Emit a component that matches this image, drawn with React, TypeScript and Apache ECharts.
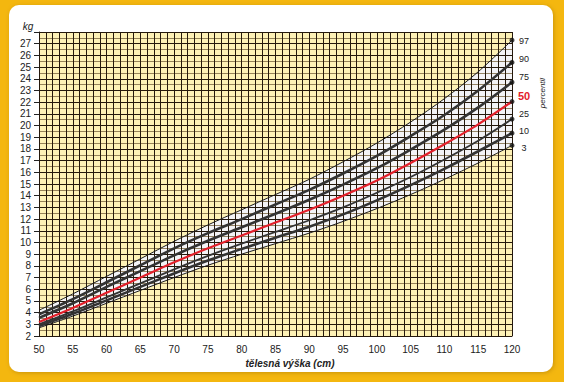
import React, { useEffect, useRef } from "react";
import * as echarts from "echarts";

const heights = [50, 55, 60, 65, 70, 75, 80, 85, 90, 95, 100, 105, 110, 115, 120];
const p97 = [4.2, 5.6, 7.1, 8.6, 10.1, 11.5, 12.8, 14.1, 15.4, 16.9, 18.5, 20.3, 22.3, 24.6, 27.3];
const p90 = [3.85, 5.15, 6.6, 8.05, 9.5, 10.8, 12.0, 13.25, 14.5, 15.9, 17.4, 19.1, 20.9, 23.0, 25.4];
const p75 = [3.55, 4.8, 6.2, 7.55, 8.9, 10.15, 11.3, 12.45, 13.65, 14.95, 16.35, 17.95, 19.65, 21.55, 23.7];
const p50 = [3.2, 4.4, 5.7, 7.0, 8.3, 9.5, 10.6, 11.7, 12.8, 14.0, 15.3, 16.8, 18.4, 20.1, 22.05];
const p25 = [3.0, 4.1, 5.3, 6.5, 7.7, 8.85, 9.9, 10.9, 11.9, 13.0, 14.25, 15.6, 17.1, 18.7, 20.55];
const p10 = [2.85, 3.9, 5.05, 6.2, 7.35, 8.45, 9.45, 10.4, 11.35, 12.4, 13.6, 14.9, 16.3, 17.8, 19.35];
const p3 = [2.7, 3.7, 4.8, 5.9, 7.0, 8.05, 9.0, 9.9, 10.8, 11.8, 12.9, 14.1, 15.4, 16.8, 18.3];

const percentileNames = ["97", "90", "75", "50", "25", "10", "3"];
const yLabelTop = 28;

const FONT = "'Liberation Sans', Arial, sans-serif";
const GOLD = "#f4b70f";
const PAPER = "#fdf1b6";
const BAND = "#f3f3f6";
const GRIDLINE = "#24180c";

export default function App() {
  const ref = useRef<HTMLDivElement>(null);
  useEffect(() => {
    const chart = echarts.init(ref.current!, null, { renderer: "svg" });
    const pts = (arr: number[]) => heights.map((h, i) => [h, arr[i]]);
    const last = heights.length - 1;
    const curves = [p97, p90, p75, p50, p25, p10, p3];
    const widths = [1, 2.6, 2.6, 2.2, 1.8, 2.6, 1];
    const colors = ["#1a1a1a", "#333333", "#333333", "#e3202b", "#333333", "#333333", "#1a1a1a"];
    const labelY = [41, 59, 77, 96, 114, 131, 148];

    const lineSeries = curves.map((c, i) => ({
      type: "line",
      name: percentileNames[i],
      data: pts(c),
      smooth: 0.3,
      symbol: "none",
      z: 5,
      lineStyle: { color: colors[i], width: widths[i] },
    }));

    const option: any = {
      animation: false,
      backgroundColor: GOLD,
      grid: {
        left: 39,
        right: 52,
        top: 32,
        bottom: 46,
        show: true,
        backgroundColor: PAPER,
        borderWidth: 0,
        z: 1,
      },
      xAxis: {
        type: "value",
        min: 50,
        max: 120,
        interval: 1,
        z: 3,
        axisLine: { show: true, lineStyle: { color: GRIDLINE, width: 1 } },
        axisTick: { show: false },
        axisLabel: {
          fontFamily: FONT,
          fontSize: 10,
          color: "#222",
          margin: 8,
          showMinLabel: true,
          showMaxLabel: true,
          formatter: (v: number) => (v % 5 === 0 ? String(v) : ""),
        },
        splitLine: { show: true, lineStyle: { color: GRIDLINE, width: 1 } },
      },
      yAxis: {
        type: "value",
        min: 2,
        max: 28,
        interval: 1,
        z: 3,
        axisLine: { show: true, lineStyle: { color: GRIDLINE, width: 1 } },
        axisTick: { show: true, length: 5, lineStyle: { color: "#222" } },
        axisLabel: {
          fontFamily: FONT,
          fontSize: 10,
          color: "#222",
          margin: 8,
          formatter: (v: number) => (v === yLabelTop ? "" : String(v)),
        },
        splitLine: { show: true, lineStyle: { color: GRIDLINE, width: 1 } },
        minorTick: { show: false, splitNumber: 2 },
        minorSplitLine: { show: true, lineStyle: { color: "#7a6640", width: 0.8 } },
      },
      graphic: [
        {
          type: "rect",
          z: -10,
          silent: true,
          shape: { x: 9, y: 5, width: 544, height: 367, r: 10 },
          style: { fill: "#ffffff", shadowBlur: 4, shadowColor: "rgba(120,80,0,0.35)", shadowOffsetX: 1, shadowOffsetY: 1 },
        },
        {
          type: "text",
          x: 28,
          y: 26,
          z: 10,
          style: { text: "kg", fontFamily: FONT, fontSize: 10, fontStyle: "italic", fill: "#222", align: "center", verticalAlign: "middle" },
        },
        {
          type: "text",
          x: 290,
          y: 363,
          z: 10,
          style: {
            text: "tělesná výška (cm)",
            fontFamily: FONT,
            fontSize: 10,
            fontStyle: "italic",
            fontWeight: "bold",
            fill: "#222",
            align: "center",
            verticalAlign: "middle",
          },
        },
        {
          type: "text",
          x: 542,
          y: 93,
          z: 10,
          rotation: Math.PI / 2,
          style: {
            text: "percentil",
            fontFamily: FONT,
            fontSize: 8,
            fontStyle: "italic",
            fill: "#222",
            align: "center",
            verticalAlign: "middle",
          },
        },
        ...percentileNames.map((n, i) => ({
          type: "text",
          x: 524,
          y: labelY[i],
          z: 10,
          style: {
            text: n,
            fontFamily: FONT,
            fontSize: n === "50" ? 11 : 9,
            fontWeight: n === "50" ? "bold" : "normal",
            fill: n === "50" ? "#e3202b" : "#222",
            align: "center",
            verticalAlign: "middle",
          },
        })),
      ],
      series: [
        {
          type: "line",
          data: pts(p97),
          smooth: 0.3,
          symbol: "none",
          z: 2,
          lineStyle: { width: 0 },
          areaStyle: { color: BAND, opacity: 1 },
        },
        {
          type: "line",
          data: pts(p3),
          smooth: 0.3,
          symbol: "none",
          z: 2,
          lineStyle: { width: 0 },
          areaStyle: { color: PAPER, opacity: 1 },
        },
        ...lineSeries,
        {
          type: "scatter",
          data: curves.map((c) => [heights[last], c[last]]),
          symbolSize: 5,
          z: 6,
          itemStyle: { color: "#111" },
        },
      ],
    };
    chart.setOption(option);
    return () => chart.dispose();
  }, []);
  return <div ref={ref} style={{ position: "absolute", left: 0, top: 0, width: 564, height: 382 }} />;
}
